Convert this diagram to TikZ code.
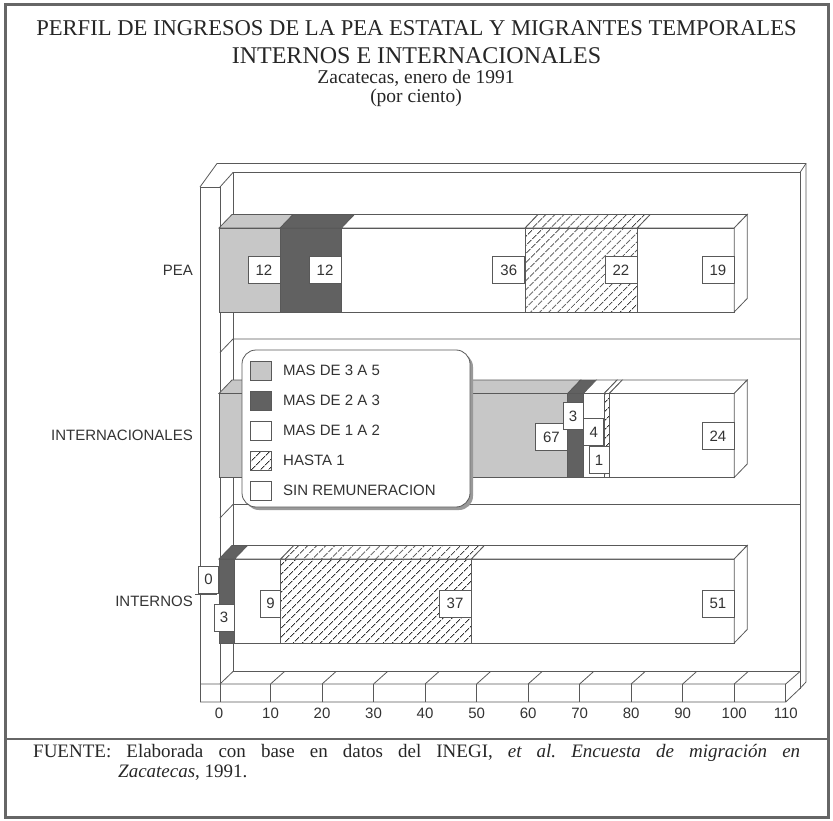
\documentclass[tikz,border=0pt]{standalone}
\usepackage{fontspec}
\setmainfont{Liberation Serif}
\setsansfont{Liberation Sans}
\usetikzlibrary{patterns.meta}
\frenchspacing
\tikzset{
  ln/.style={draw=black!65, line width=0.8pt},
  lite/.style={ln, fill=black!22},
  dark/.style={ln, fill=black!62},
  blank/.style={ln, fill=white},
  hatch/.style={ln, preaction={fill=white}, pattern={Lines[angle=45,distance=6.5pt,line width=0.9pt]}, pattern color=black!80},
  sfnt/.style={font=\sffamily\fontsize{15}{15}\selectfont, text=black!80},
  vbox/.style={sfnt, draw=black!65, line width=0.7pt, fill=white, minimum width=32pt, minimum height=27pt, inner sep=0pt, anchor=east},
  vboxs/.style={vbox, minimum width=20pt},
  cat/.style={sfnt, anchor=east, inner sep=0pt},
  axlab/.style={sfnt, inner sep=0pt},
  legtxt/.style={sfnt, anchor=west, inner sep=0pt},
  ttl/.style={text=black!85, inner sep=0pt},
}
\newcommand{\barpart}[4]{%
  \path[#4] (#1,#3) rectangle (#2,{#3+84});
  \path[#4] (#1,#3) -- ({#1+13},{#3-13.5}) -- ({#2+13},{#3-13.5}) -- (#2,#3) -- cycle;}
\newcommand{\barside}[2]{%
  \path[blank] (#1,#2) -- ({#1+13},{#2-13.5}) -- ({#1+13},{#2+70.5}) -- (#1,{#2+84}) -- cycle;}
\begin{document}
\begin{tikzpicture}[x=1pt,y=-1pt]
\useasboundingbox (0,0) rectangle (833,821);
% outer frame and separator
\draw[black!60, line width=3pt] (5,5) rectangle (828,817);
\draw[black!60, line width=2.5pt] (5,739) -- (828,739);
% titles
\node[ttl, font=\fontsize{22.6}{24}\selectfont] (t1) at (416.5,28) {PERFIL DE INGRESOS DE LA PEA ESTATAL Y MIGRANTES TEMPORALES};
\node[ttl, font=\fontsize{24}{26}\selectfont] (t2) at (416.5,56) {INTERNOS E INTERNACIONALES};
\node[ttl, font=\fontsize{19.5}{21}\selectfont] (t3) at (416,78) {Zacatecas, enero de 1991};
\node[ttl, font=\fontsize{19.5}{21}\selectfont] (t4) at (416,98) {(por ciento)};
% walls
\draw[ln] (200,187) -- (217,163.5) -- (806,163.5);
\draw[ln] (220,187) -- (233,172.5) -- (800,172.5) -- (806,163.5);
\draw[ln] (200,187) -- (220,187);
\draw[ln] (200,187) -- (200,702);
\draw[ln] (220,187) -- (220,702);
\draw[ln] (233,172.5) -- (233,671.5);
\draw[ln] (800,172.5) -- (800,688.5);
\draw[ln] (806,163.5) -- (806,682) -- (800,688.5);
% dividers
\draw[ln] (220,352.5) -- (233,339) -- (800,339);
\draw[ln] (220,518) -- (233,504.5) -- (800,504.5);
% floor
\draw[ln] (220,684) -- (233,671.5) -- (800,671.5);
\draw[ln] (200,684) -- (785.7,684) -- (800,671.5);
\draw[ln] (200,702) -- (785.7,702) -- (800,688.5);
\foreach \v in {10,20,...,110} {
  \draw[ln] ({219+5.152*\v},684) -- ({219+5.152*\v},702);
}
\foreach \v in {10,20,...,100} {
  \draw[ln] ({219+5.152*\v},684) -- ({233+5.152*\v},671.5);
}
\foreach \v in {0,10,...,110} {
  \node[axlab] (ax\v) at ({219+5.152*\v},713) {\v};
}
% category labels
\node[cat] (cpea) at (193,270) {PEA};
\node[cat] (cint) at (193,435.5) {INTERNACIONALES};
\node[cat] (cnac) at (193,601) {INTERNOS};
\draw[ln] (195,594) -- (217,594);
% PEA bar
\barpart{219}{280.2}{228}{lite}
\barpart{280.2}{341.4}{228}{dark}
\barpart{341.4}{525.1}{228}{blank}
\barpart{525.1}{637.3}{228}{hatch}
\barpart{637.3}{734.2}{228}{blank}
\barside{734.2}{228}
% INTERNACIONALES bar
\barpart{219}{567.7}{393.5}{lite}
\barpart{567.7}{583.3}{393.5}{dark}
\barpart{583.3}{604.1}{393.5}{blank}
\barpart{604.1}{609.3}{393.5}{hatch}
\barpart{609.3}{734.2}{393.5}{blank}
\barside{734.2}{393.5}
% INTERNOS bar
\barpart{219}{234.5}{559}{dark}
\barpart{234.5}{280.8}{559}{blank}
\barpart{280.8}{471.4}{559}{hatch}
\barpart{471.4}{734.2}{559}{blank}
\barside{734.2}{559}
% value labels
\node[vbox] (p1) at (280.2,270) {12};
\node[vbox] (p2) at (341.4,270) {12};
\node[vbox] (p3) at (525.1,270) {36};
\node[vbox] (p4) at (637.3,270) {22};
\node[vbox] (p5) at (734.2,270) {19};
\node[vbox] (i1) at (567.7,437) {67};
\node[vboxs] (i2) at (583.3,416) {3};
\node[vboxs] (i3) at (604.1,432) {4};
\node[vboxs] (i4) at (609.3,460) {1};
\node[vbox] (i5) at (734.2,436) {24};
\node[vboxs] (n1) at (219,579.5) {0};
\node[vboxs] (n2) at (234.5,617.5) {3};
\node[vboxs] (n3) at (280.8,603.5) {9};
\node[vbox] (n4) at (471.4,603.5) {37};
\node[vbox] (n5) at (734.2,603.5) {51};
% legend
\fill[black!40, rounded corners=14pt] (245,353) rectangle (473,510);
\draw[ln, fill=white, rounded corners=14pt] (242,350) rectangle (470,507);
\path[lite] (250,361) rectangle (271,380);
\path[dark] (250,391) rectangle (271,410);
\path[blank] (250,421) rectangle (271,440);
\path[hatch] (250,451) rectangle (271,470);
\path[blank] (250,481) rectangle (271,500);
\node[legtxt] (l1) at (283,370.5) {MAS DE 3 A 5};
\node[legtxt] (l2) at (283,400.5) {MAS DE 2 A 3};
\node[legtxt] (l3) at (283,430.5) {MAS DE 1 A 2};
\node[legtxt] (l4) at (283,460.5) {HASTA 1};
\node[legtxt] (l5) at (283,490.5) {SIN REMUNERACION};
% footer
\node[ttl, anchor=west, font=\fontsize{19}{20}\selectfont] (f1) at (33,753) {\makebox[767pt][s]{FUENTE: Elaborada con base en datos del INEGI, \textit{et al. Encuesta de migración en}}};
\node[ttl, anchor=west, font=\fontsize{19}{20}\selectfont] (f2) at (118,773) {\textit{Zacatecas}, 1991.};
\end{tikzpicture}
\end{document}
